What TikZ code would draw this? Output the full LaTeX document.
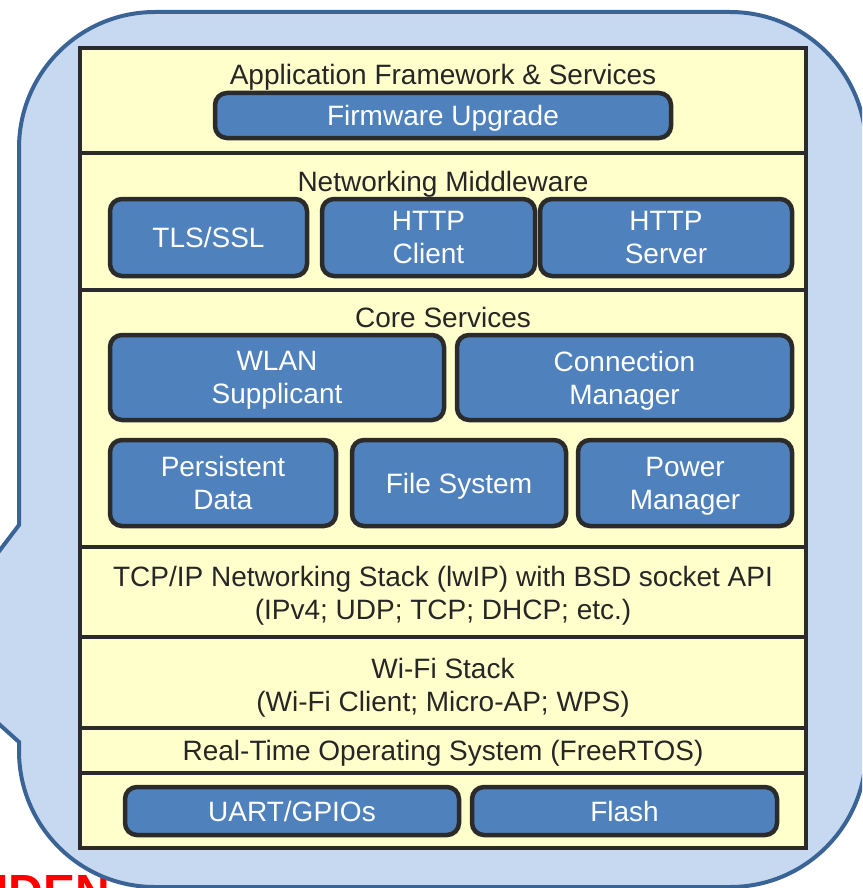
\documentclass[tikz,border=0pt]{standalone}
\usepackage{fontspec}
\setmainfont{Liberation Sans}
\definecolor{callfill}{HTML}{C6D9F0}
\definecolor{callline}{HTML}{3B6496}
\definecolor{layerfill}{HTML}{FFFFCC}
\definecolor{darkline}{HTML}{2B2B2B}
\definecolor{boxblue}{HTML}{4F81BD}
\newcommand\nodepth[1]{\raisebox{0pt}[\height][0pt]{#1}}
\begin{document}
\begin{tikzpicture}[x=1pt,y=-1pt,
  txt/.style={font=\fontsize{28}{33}\selectfont, text=black!85, inner sep=0pt, align=center},
  layer/.style={draw=darkline, line width=4.5pt, fill=layerfill, inner sep=0pt, minimum width=726pt},
  bluebox/.style={draw=darkline, line width=4.5pt, fill=boxblue, rounded corners=12pt,
    text=white, font=\fontsize{28}{33}\selectfont, align=center, inner sep=0pt}]
\useasboundingbox (0,0) rectangle (862,888);
\clip (0,0) rectangle (862,888);
% red fragment behind the callout
\node[anchor=base west, inner sep=0pt, text=red, font=\bfseries\fontsize{48}{48}\selectfont] (conf) at (-4.7,908) {IDEN};
% callout shape
\begin{scope}[y=1pt]
\draw[callline, fill=callfill, line width=4pt]
  (19,-742) -- (-79,-654) -- (19,-525) -- (19,-148)
  arc[start angle=180, end angle=90, radius=136] -- (730,-12)
  arc[start angle=90, end angle=0, radius=136] -- (866,-751)
  arc[start angle=0, end angle=-90, radius=136] -- (155,-887)
  arc[start angle=270, end angle=180, radius=136] -- cycle;
\end{scope}
% layers
\node[layer, minimum height=105pt] (l1) at (443,100.5) {};
\node[layer, minimum height=137pt] (l2) at (443,221.5) {};
\node[layer, minimum height=257pt] (l3) at (443,418.5) {};
\node[layer, minimum height=90pt] (l4) at (443,592) {};
\node[layer, minimum height=91pt] (l5) at (443,682.5) {};
\node[layer, minimum height=45pt] (l6) at (443,750.5) {};
\node[layer, minimum height=75pt] (l7) at (443,810.5) {};
% layer titles
\node[txt, anchor=base] (t1) at (443,85) {Application Framework \& Services};
\node[txt, anchor=base] (t2) at (443,191) {Networking Middleware};
\node[txt, anchor=base] (t3) at (443,327) {Core Services};
\node[txt, anchor=base] (t4a) at (443,586) {TCP/IP Networking Stack (lwIP) with BSD socket API};
\node[txt, anchor=base] (t4b) at (443,619) {(IPv4; UDP; TCP; DHCP; etc.)};
\node[txt, anchor=base] (t5a) at (443,678) {Wi-Fi Stack};
\node[txt, anchor=base] (t5b) at (443,711) {(Wi-Fi Client; Micro-AP; WPS)};
\node[txt, anchor=base] (t6) at (443,760) {Real-Time Operating System (FreeRTOS)};
% blue boxes
\node[bluebox, minimum width=456pt, minimum height=45pt] (fw) at (443,115.5) {\nodepth{Firmware Upgrade}};
\node[bluebox, minimum width=197pt, minimum height=77pt] (tls) at (208.5,237.5) {\nodepth{TLS/SSL}};
\node[bluebox, minimum width=213pt, minimum height=77pt] (hc) at (428.5,237.5) {HTTP\\Client};
\node[bluebox, minimum width=252pt, minimum height=77pt] (hs) at (666,237.5) {HTTP\\Server};
\node[bluebox, minimum width=334pt, minimum height=85pt] (wlan) at (277,377.5) {WLAN\\\nodepth{Supplicant}};
\node[bluebox, minimum width=335pt, minimum height=85pt] (cm) at (624.5,377.5) {Connection\\\nodepth{Manager}};
\node[bluebox, minimum width=226pt, minimum height=86pt] (pd) at (223,483) {Persistent\\Data};
\node[bluebox, minimum width=214pt, minimum height=86pt] (fs) at (459,483) {\nodepth{File System}};
\node[bluebox, minimum width=214pt, minimum height=86pt] (pm) at (685,483) {Power\\\nodepth{Manager}};
\node[bluebox, minimum width=334pt, minimum height=48pt] (uart) at (292,811) {\nodepth{UART/GPIOs}};
\node[bluebox, minimum width=305pt, minimum height=48pt] (flash) at (624.5,811) {Flash};
\end{tikzpicture}
\end{document}
